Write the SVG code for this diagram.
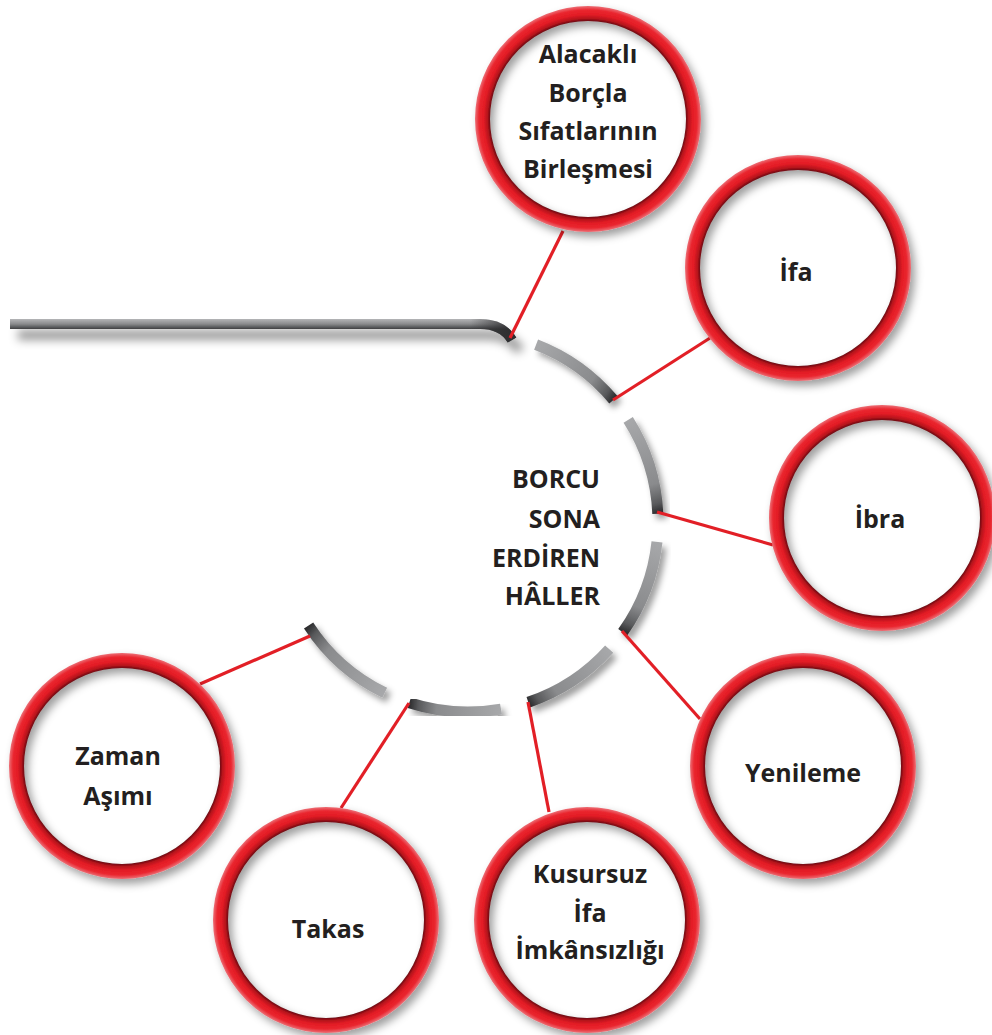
<svg xmlns="http://www.w3.org/2000/svg" width="992" height="1035" viewBox="0 0 992 1035">
<style>
.ring{fill:none;stroke:url(#ringGrad);stroke-width:15;filter:url(#ringShadow)}
.lbl{font-family:"Open Sans","Liberation Sans",sans-serif;font-weight:bold;font-size:25px;fill:#231f20;text-anchor:middle}
.ctr{font-family:"Open Sans","Liberation Sans",sans-serif;font-weight:bold;font-size:25px;fill:#231f20;text-anchor:end}
.con{stroke:#e21f26;stroke-width:3.2;fill:none}
.seg{fill:none;stroke-width:11;stroke-linecap:butt;filter:url(#segShadow)}
</style>
<defs>
<radialGradient id="ringGrad" gradientUnits="userSpaceOnUse" cx="0" cy="0" r="113">
<stop offset="0.865" stop-color="#650b10"/>
<stop offset="0.89" stop-color="#b5131c"/>
<stop offset="0.925" stop-color="#e31c25"/>
<stop offset="0.965" stop-color="#ea262f"/>
<stop offset="1" stop-color="#ec7077"/>
</radialGradient>
<filter id="ringShadow" x="-20%" y="-20%" width="150%" height="150%">
<feGaussianBlur in="SourceAlpha" stdDeviation="4.5"/>
<feOffset dx="4" dy="5" result="b"/>
<feFlood flood-color="#000" flood-opacity="0.38"/>
<feComposite in2="b" operator="in"/>
<feMerge><feMergeNode/><feMergeNode in="SourceGraphic"/></feMerge>
</filter>
<filter id="segShadow" x="-30%" y="-30%" width="170%" height="170%">
<feGaussianBlur in="SourceAlpha" stdDeviation="3"/>
<feOffset dx="4" dy="5" result="b"/>
<feFlood flood-color="#000" flood-opacity="0.38"/>
<feComposite in2="b" operator="in"/>
<feMerge><feMergeNode/><feMergeNode in="SourceGraphic"/></feMerge>
</filter>
<filter id="lineShadow" x="-5%" y="-200%" width="110%" height="600%">
<feGaussianBlur in="SourceAlpha" stdDeviation="5"/>
<feOffset dx="8" dy="11" result="b"/>
<feFlood flood-color="#000" flood-opacity="0.4"/>
<feComposite in2="b" operator="in"/>
<feMerge><feMergeNode/><feMergeNode in="SourceGraphic"/></feMerge>
</filter>
<linearGradient id="hGrad" gradientUnits="userSpaceOnUse" x1="0" y1="319" x2="0" y2="329">
<stop offset="0" stop-color="#b4b5b7"/>
<stop offset="0.5" stop-color="#8a8b8d"/>
<stop offset="1" stop-color="#3e3f41"/>
</linearGradient>
<linearGradient id="hEnd" gradientUnits="userSpaceOnUse" x1="470" y1="0" x2="514" y2="0">
<stop offset="0" stop-color="#2b2b2d" stop-opacity="0"/>
<stop offset="1" stop-color="#2b2b2d" stop-opacity="0.9"/>
</linearGradient>
<linearGradient id="g1" gradientUnits="userSpaceOnUse" x1="536.1" y1="344.6" x2="613.5" y2="399.9"><stop offset="0" stop-color="#a7a8aa"/><stop offset="0.7" stop-color="#8a8b8d"/><stop offset="0.9" stop-color="#58595b"/><stop offset="1" stop-color="#2b2b2d"/></linearGradient>
<linearGradient id="g2" gradientUnits="userSpaceOnUse" x1="628.2" y1="419.9" x2="657.8" y2="513.7"><stop offset="0" stop-color="#a7a8aa"/><stop offset="0.7" stop-color="#8a8b8d"/><stop offset="0.9" stop-color="#58595b"/><stop offset="1" stop-color="#2b2b2d"/></linearGradient>
<linearGradient id="g3" gradientUnits="userSpaceOnUse" x1="657" y1="541.9" x2="622.7" y2="632.3"><stop offset="0" stop-color="#a7a8aa"/><stop offset="0.7" stop-color="#8a8b8d"/><stop offset="0.9" stop-color="#58595b"/><stop offset="1" stop-color="#2b2b2d"/></linearGradient>
<linearGradient id="g4" gradientUnits="userSpaceOnUse" x1="609.2" y1="649.1" x2="528.3" y2="702.2"><stop offset="0" stop-color="#a7a8aa"/><stop offset="0.7" stop-color="#8a8b8d"/><stop offset="0.9" stop-color="#58595b"/><stop offset="1" stop-color="#2b2b2d"/></linearGradient>
<linearGradient id="g5" gradientUnits="userSpaceOnUse" x1="501" y1="709.1" x2="409.3" y2="702.7"><stop offset="0" stop-color="#a7a8aa"/><stop offset="0.7" stop-color="#8a8b8d"/><stop offset="0.9" stop-color="#58595b"/><stop offset="1" stop-color="#2b2b2d"/></linearGradient>
<linearGradient id="g6" gradientUnits="userSpaceOnUse" x1="384.7" y1="692.8" x2="308.6" y2="625.5"><stop offset="0" stop-color="#a7a8aa"/><stop offset="0.7" stop-color="#8a8b8d"/><stop offset="0.9" stop-color="#58595b"/><stop offset="1" stop-color="#2b2b2d"/></linearGradient>
</defs>
<rect width="992" height="1035" fill="#fff"/>

<g id="hub">
<path d="M10,324 H480 C496,324 506,330 512,340" fill="none" stroke="url(#hGrad)" stroke-width="10" filter="url(#lineShadow)"/>
<path d="M470,324 H480 C496,324 506,330 512,340" fill="none" stroke="url(#hEnd)" stroke-width="10"/>
<path class="seg" stroke="url(#g1)" d="M536.1,344.6 A190,190 0 0 1 613.5,399.9"/>
<path class="seg" stroke="url(#g2)" d="M628.2,419.9 A190,190 0 0 1 657.8,513.7"/>
<path class="seg" stroke="url(#g3)" d="M657,541.9 A190,190 0 0 1 622.7,632.3"/>
<path class="seg" stroke="url(#g4)" d="M609.2,649.1 A190,190 0 0 1 528.3,702.2"/>
<path class="seg" stroke="url(#g5)" d="M501,709.1 A190,190 0 0 1 409.3,702.7"/>
<path class="seg" stroke="url(#g6)" d="M384.7,692.8 A190,190 0 0 1 308.6,625.5"/>
<text class="ctr"><tspan x="600" y="488">BORCU</tspan><tspan x="600" y="528">SONA</tspan><tspan x="600" y="567">ERDİREN</tspan><tspan x="600" y="605">HÂLLER</tspan></text>
</g>

<g id="connectors">
<line class="con" x1="510" y1="338" x2="563" y2="231"/>
<line class="con" x1="613" y1="400" x2="710" y2="338"/>
<line class="con" x1="657" y1="512" x2="773" y2="545"/>
<line class="con" x1="622" y1="631" x2="700" y2="719"/>
<line class="con" x1="528" y1="702" x2="549" y2="812"/>
<line class="con" x1="409" y1="703" x2="341" y2="808"/>
<line class="con" x1="310" y1="636" x2="200" y2="684"/>
</g>

<g id="n-alacakli" transform="translate(588,119)">
<circle class="ring" r="105.5"/>
<text class="lbl"><tspan x="0" y="-56">Alacaklı</tspan><tspan x="0" y="-17">Borçla</tspan><tspan x="0" y="21">Sıfatlarının</tspan><tspan x="0" y="59">Birleşmesi</tspan></text>
</g>
<g id="n-ifa" transform="translate(798,268)">
<circle class="ring" r="105.5"/>
<text class="lbl" x="-2" y="13">İfa</text>
</g>
<g id="n-ibra" transform="translate(882,518)">
<circle class="ring" r="105.5"/>
<text class="lbl" x="-2" y="10">İbra</text>
</g>
<g id="n-yenileme" transform="translate(803,766)">
<circle class="ring" r="105.5"/>
<text class="lbl" x="0" y="16">Yenileme</text>
</g>
<g id="n-kusursuz" transform="translate(587,920)">
<circle class="ring" r="105.5"/>
<text class="lbl"><tspan x="3" y="-37">Kusursuz</tspan><tspan x="3" y="2">İfa</tspan><tspan x="3" y="39">İmkânsızlığı</tspan></text>
</g>
<g id="n-takas" transform="translate(326,920)">
<circle class="ring" r="105.5"/>
<text class="lbl" x="2" y="18">Takas</text>
</g>
<g id="n-zaman" transform="translate(122,766)">
<circle class="ring" r="105.5"/>
<text class="lbl"><tspan x="-4" y="-1">Zaman</tspan><tspan x="-4" y="39">Aşımı</tspan></text>
</g>
</svg>
